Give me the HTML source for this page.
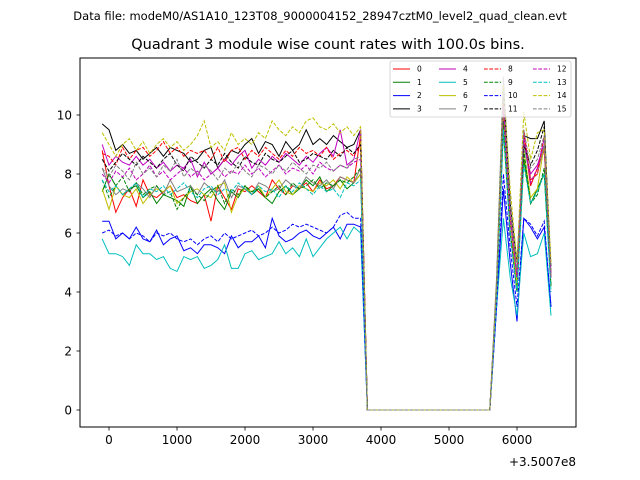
<!DOCTYPE html>
<html><head><meta charset="utf-8"><style>
body{margin:0;background:#fff;}
svg{display:block;font-family:"DejaVu Sans","Liberation Sans",sans-serif;}
</style></head><body>
<svg id="chart" width="640" height="480" viewBox="0 0 640 480">
<rect width="640" height="480" fill="#fff"/>
<text x="320" y="20" font-size="11.5" text-anchor="middle">Data file: modeM0/AS1A10_123T08_9000004152_28947cztM0_level2_quad_clean.evt</text>
<text x="328" y="49" font-size="14.5" text-anchor="middle">Quadrant 3 module wise count rates with 100.0s bins.</text>
<defs><clipPath id="pc"><rect x="80" y="58" width="496" height="369"/></clipPath></defs>
<g id="series" clip-path="url(#pc)"></g>
<rect x="80" y="58" width="496" height="369" fill="none" stroke="#000" stroke-width="1"/>
<g id="axes"></g>
<text x="576" y="466" font-size="12" text-anchor="end">+3.5007e8</text>
<g id="legend"></g>
</svg>
<script>
const xTicks=[0,1000,2000,3000,4000,5000,6000];
const yTicks=[0,2,4,6,8,10];
const labels=["0","1","2","3","4","5","6","7","8","9","10","11","12","13","14","15"];
const colors=["#ff0000","#008000","#0000ff","#000000","#bf00bf","#00bfbf","#bfbf00","#808080","#ff0000","#008000","#0000ff","#000000","#bf00bf","#00bfbf","#bfbf00","#808080"];
const Z=[0,0,0,0,0,0,0,0,0,0,0,0,0,0,0,0,0,0,0];
const s0=[8.8,7.6,6.7,7.2,7.5,6.9,7.8,7.3,7.2,7.4,7.6,7.2,7.3,7.1,7.0,7.3,6.4,7.6,7.2,6.8,7.5,7.4,7.6,7.4,7.2,7.8,7.5,7.3,7.6,7.5,7.7,7.4,7.8,7.5,7.6,7.9,7.8,7.7,9.3];
const s1=[7.4,8.0,7.6,7.3,7.5,7.6,7.2,7.4,7.0,7.3,7.2,7.1,6.9,7.6,7.0,7.3,7.5,7.1,6.8,7.4,7.2,7.6,7.3,7.5,7.2,7.0,7.4,7.6,7.3,7.5,7.8,7.6,7.9,7.4,7.6,7.8,7.5,7.7,8.0];
const s2=[6.4,6.4,5.8,6.0,5.8,6.2,5.8,5.7,6.1,5.6,5.8,5.9,5.4,5.5,5.3,5.6,5.6,5.5,5.3,5.9,5.5,5.7,5.7,5.9,5.5,6.5,5.9,5.7,5.8,6.0,6.1,5.9,5.8,6.0,6.2,5.8,6.3,6.3,6.2];
const s3=[9.7,9.5,8.8,9.0,8.7,8.8,8.5,8.7,8.9,8.6,8.9,8.8,8.7,8.4,8.5,8.8,8.9,8.2,8.5,8.8,8.7,9.0,9.2,8.7,9.1,9.0,8.6,9.1,8.8,9.0,9.5,9.0,9.2,9.0,9.3,9.1,8.9,9.0,9.5];
const s4=[9.0,8.3,8.6,8.4,8.3,8.6,8.3,8.5,8.2,8.4,8.1,8.3,8.2,8.5,7.9,8.4,8.0,8.2,8.5,8.3,8.6,8.8,8.2,8.5,8.3,8.6,8.4,8.7,8.5,8.3,8.6,8.4,8.7,8.9,8.6,9.5,8.3,8.5,9.5];
const s5=[5.8,5.3,5.3,5.2,4.9,5.6,5.3,5.3,5.1,5.2,4.8,4.7,5.2,5.1,5.2,4.8,4.9,5.1,5.6,4.8,4.8,5.3,5.4,5.1,5.2,5.3,5.7,5.3,5.5,5.2,5.8,5.2,5.5,5.8,6.0,6.2,5.8,6.2,6.0];
const s6=[7.5,6.8,7.6,7.3,7.2,7.5,7.0,7.3,7.5,7.4,7.6,7.0,7.2,7.4,7.5,7.3,7.2,7.6,7.7,6.7,7.3,7.5,7.4,7.6,7.2,7.5,7.8,7.4,7.3,7.6,7.5,7.4,7.7,7.6,7.8,7.5,7.9,7.7,8.0];
const s7=[8.2,7.6,7.3,7.5,7.4,7.7,7.5,7.2,7.6,7.3,7.8,7.4,7.5,7.6,7.3,7.7,7.5,7.4,7.8,7.2,7.6,7.5,7.3,7.7,7.6,7.4,7.5,7.8,7.6,7.5,7.9,7.7,7.6,7.8,7.5,7.9,7.8,7.7,8.2];
const s8=[8.7,8.6,8.3,8.9,8.5,8.8,8.9,8.6,8.8,9.1,8.7,8.9,8.6,8.8,8.7,8.8,8.5,8.9,8.4,8.8,8.9,8.5,8.8,8.6,8.9,8.7,8.5,8.8,8.6,8.9,8.7,8.8,8.6,8.9,8.5,8.7,8.8,8.6,9.0];
const s9=[7.8,7.2,7.6,7.9,7.4,7.7,7.3,7.5,7.6,7.3,7.4,6.8,7.2,7.5,7.3,7.1,7.4,7.6,7.0,7.5,7.3,7.6,7.4,7.5,7.2,7.4,7.6,7.3,7.7,7.5,7.6,7.8,7.5,7.7,7.6,7.8,7.7,7.9,8.2];
const s10=[6.0,6.1,5.9,6.0,5.8,6.0,5.9,5.7,6.0,5.9,6.0,5.8,5.7,5.8,5.6,5.8,5.9,5.7,6.0,5.8,5.9,6.0,6.1,5.9,6.0,6.2,6.0,6.1,6.3,6.2,6.3,6.2,6.1,6.0,6.2,6.6,6.7,6.5,6.5];
const s11=[8.5,8.1,8.4,8.7,8.5,8.3,8.6,8.4,8.2,8.5,8.7,8.3,8.1,8.6,8.4,8.2,8.5,8.3,8.7,8.4,8.2,8.6,8.4,8.3,8.7,8.5,8.4,8.6,8.8,8.4,8.5,8.7,8.6,8.5,8.8,8.6,8.9,8.7,9.0];
const s12=[8.0,7.7,8.1,7.9,8.2,7.8,8.0,8.3,7.9,8.1,7.8,8.0,8.2,7.9,8.1,7.8,8.0,8.2,7.9,8.1,8.0,8.3,8.0,8.2,7.9,8.1,8.3,8.0,8.2,8.1,8.3,8.0,8.4,8.2,8.1,8.3,8.2,8.4,8.5];
const s13=[7.8,7.4,7.6,7.3,7.5,7.7,7.2,7.5,7.4,7.6,7.3,7.5,7.7,7.4,7.2,7.5,7.6,7.3,7.5,7.4,7.7,7.5,7.3,7.6,7.4,7.5,7.2,7.6,7.4,7.7,7.5,7.3,7.6,7.4,7.5,7.2,7.7,7.6,7.8];
const s14=[9.4,9.0,8.6,9.0,9.2,8.8,9.1,8.7,9.0,9.2,8.9,9.1,8.8,9.0,9.3,9.8,8.9,9.1,8.8,9.4,9.0,9.2,9.0,9.4,9.2,9.8,9.5,9.3,9.6,9.4,9.8,9.9,9.6,9.5,9.7,9.4,9.6,9.3,9.6];
const s15=[8.2,7.9,8.3,8.1,7.8,8.4,8.0,8.2,7.9,8.3,8.1,8.5,7.9,8.2,8.0,8.3,8.1,7.8,8.2,8.0,8.4,8.1,7.9,8.3,8.2,8.0,8.3,8.1,8.4,8.2,8.0,8.3,8.2,8.4,8.1,8.3,8.2,8.5,8.6];
const r0=[4,10.5,6,4.5,9.3,7.6,8.2,8.8,4.5];
const r1=[4,9.5,6,4,8.5,7,7.5,8,4.2];
const r2=[3.5,7.5,5,3,6.5,6.2,5.8,6.2,3.5];
const r3=[4,11,7,4.5,9.3,9.2,9.2,9.8,4.5];
const r4=[4,10,6.5,4.5,9,8,8.3,9,4.5];
const r5=[3.5,6.5,4.5,3.2,6,5.2,5.3,6,3.2];
const r6=[4,10,6.5,4.2,8.8,7.2,7.5,9,4.5];
const r7=[4.5,11.3,7,4.5,9,7.8,8,9,4.5];
const r8=[4,10.5,6.5,4.5,9.5,7.8,8,9.3,4.5];
const r9=[4,9.8,6,4,8.8,7,7.3,8.2,4.2];
const r10=[3.5,8,5.5,3.5,6.5,6.3,5.9,6.4,3.5];
const r11=[4.2,11,7,5,9,8.3,8.8,9.6,4.8];
const r12=[4,10.3,6.5,4.5,9.3,7.7,8.2,9.2,4.5];
const r13=[3.8,9.5,6,4,8.3,7,7.4,8,4];
const r14=[4.2,11,7.5,5,10.1,8.5,9.4,9.5,5];
const r15=[4.2,10.8,7,4.7,9.5,8.2,8.5,9.3,4.5];
const leftParts=[s0,s1,s2,s3,s4,s5,s6,s7,s8,s9,s10,s11,s12,s13,s14,s15];
const rightParts=[r0,r1,r2,r3,r4,r5,r6,r7,r8,r9,r10,r11,r12,r13,r14,r15];
const times=[];
for(let t=-100;t<=6500;t+=100)times.push(t);

const NS="http://www.w3.org/2000/svg";
const xs=t=>109+t*0.068;
const ys=v=>410-v*29.5;
function mk(tag,attrs,parent){const e=document.createElementNS(NS,tag);for(const k in attrs)e.setAttribute(k,attrs[k]);parent.appendChild(e);return e;}
const axes=document.getElementById('axes');
xTicks.forEach(t=>{
  const l=mk('line',{x1:xs(t),x2:xs(t),y1:427,y2:430.5,stroke:'#000','stroke-width':0.8},axes);
  
  
  const tx=mk('text',{x:xs(t),y:444,'font-size':12,'text-anchor':'middle'},axes);
  tx.textContent=String(t);
  
  
});
yTicks.forEach(v=>{
  const l=mk('line',{x1:76.5,x2:80,y1:ys(v),y2:ys(v),stroke:'#000','stroke-width':0.8},axes);
  
  
  const tx=mk('text',{x:72,y:ys(v)+4.5,'font-size':12,'text-anchor':'end'},axes);
  tx.textContent=String(v);
  
  
});
const sg=document.getElementById('series');
for(let i=0;i<16;i++){
  const vals=leftParts[i].concat(Z,rightParts[i]);
  const pts=vals.map((v,j)=>xs(times[j]).toFixed(1)+','+ys(v).toFixed(1)).join(' ');
  const p=mk('polyline',{points:pts,fill:'none',stroke:colors[i],'stroke-width':1},sg);
  if(i>=8)p.setAttribute('stroke-dasharray','3.7,1.6');
  
  
}
const lg=document.getElementById('legend');
mk('rect',{x:390,y:61,width:181,height:56,fill:'#fff','fill-opacity':0.8,stroke:'#ccc','stroke-width':0.8,rx:2},lg);
const colX=[393,439,484,533];
for(let i=0;i<16;i++){
  const c=Math.floor(i/4),r=i%4;
  const x=colX[c],y=69+r*13.3;
  const l=mk('line',{x1:x,x2:x+17,y1:y,y2:y,stroke:colors[i],'stroke-width':1},lg);
  if(i>=8)l.setAttribute('stroke-dasharray','3.7,1.6');
  
  
  const t=mk('text',{x:x+24,y:y+2.5,'font-size':7.5},lg);
  t.textContent=labels[i];
  
  
}
</script>
</body></html>
